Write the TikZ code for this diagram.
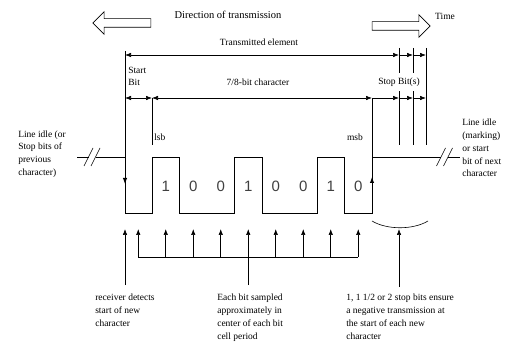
\documentclass[tikz,border=0pt]{standalone}
\usepackage{fontspec}
\setmainfont{Liberation Serif}
\setsansfont{Liberation Sans}
\usetikzlibrary{shapes.arrows, arrows.meta, positioning}
\tikzstyle{lbl} = [font=\fontsize{9.5}{12.8}\selectfont, inner sep=0pt, align=left]
\tikzstyle{bitval} = [font=\sffamily\fontsize{15}{15}\selectfont, inner sep=0pt, text=black!75]
\tikzstyle{hollow} = [single arrow, draw, line width=0.6pt, inner xsep=0pt, inner ysep=4pt, minimum width=22pt, minimum height=58pt, single arrow head extend=7pt]
\tikzstyle{arrow2} = [->, >={Latex[length=6pt,width=4.5pt]}]
\tikzstyle{dim2} = [<->, >={Latex[length=6pt,width=4.5pt]}]
\tikzstyle{wave} = [line width=0.9pt]

\begin{document}
\begin{tikzpicture}[x=1pt, y=-1pt, line width=0.6pt]
\useasboundingbox (0,0) rectangle (520,342);

            % Place nodes
            \node (dirl) [hollow, shape border rotate=180] at (124,23) {};
            \node (dirtxt) [lbl, font=\fontsize{10.5}{12.8}\selectfont] at (228,15) {Direction of transmission};
            \node (dirr) [hollow] at (399,26) {};
            \node (time) [lbl] at (445,16) {Time};
            \node (elem) [lbl] at (259,42) {Transmitted element};
            \node (startbit) [lbl, anchor=west] at (128,76.5) {Start\\Bit};
            \node (char) [lbl] at (258,82) {7/8-bit character};
            \node (lsb) [lbl, anchor=west] at (154,137) {lsb};
            \node (msb) [lbl] at (355,137) {msb};
            \node (idlel) [lbl, anchor=west] at (18,154) {Line idle (or\\Stop bits of\\previous\\character)};
            \node (idler) [lbl, anchor=west] at (462,148) {Line idle\\(marking)\\ or start\\bit of next\\character};
            \node (rxlbl) [lbl, anchor=north west] at (95,294) {receiver detects\\start of new\\character};
            \node (smplbl) [lbl, anchor=north west] at (217,294) {Each bit sampled\\approximately in\\center of each bit\\cell period};
            \node (stoplbl) [lbl, anchor=north west] at (346,294) {1, 1 1/2 or 2 stop bits ensure\\a negative transmission at\\the start of each new\\character};
            \foreach \v [count=\i] in {1,0,0,1,0,0,1,0}
                \node (bit\i) [bitval] at ({138.25+27.5*\i},186) {\v};

            % Dimension rows
            \coordinate (eS) at (125,55);
            \coordinate (eA) at (399,55);
            \coordinate (eB) at (413,55);
            \coordinate (eC) at (426,55);
            \coordinate (cS) at (125,98);
            \coordinate (cL) at (152,98);
            \coordinate (cM) at (372,98);
            \coordinate (cA) at (399,98);
            \coordinate (cB) at (413,98);
            \coordinate (cC) at (426,98);
            \draw (125,51) -- (125,157);
            \draw (cL) -- (152,145);
            \draw (cM) -- (372,157);
            \foreach \x in {399,413,426}
                \draw (\x,48) -- (\x,145);
            \draw [dim2] (eS) -- (eA);
            \draw [arrow2] (eA) -- (eB);
            \draw [arrow2] (eB) -- (eC);
            \draw [dim2] (cS) -- (cL);
            \draw [dim2] (cL) -- (cM);
            \draw [arrow2] (cM) -- (cA);
            \draw [arrow2] (cA) -- (cB);
            \draw [arrow2] (cB) -- (cC);
            \node (stopbits) [lbl, fill=white, inner xsep=1pt, inner ysep=4.5pt] at (399,82) {Stop Bit(s)};

            % Waveform
            \draw [wave] (77,157) -- (88.5,157);
            \draw (84,166) -- (93,148);
            \draw (91,166) -- (100,148);
            \draw [wave] (95.5,157) -- (125,157) -- (125,213) -- (152,213) -- (152,157)
                -- (179.5,157) -- (179.5,213) -- (234.5,213) -- (234.5,157) -- (262,157)
                -- (262,213) -- (317,213) -- (317,157) -- (344.5,157) -- (344.5,213)
                -- (372,213) -- (372,157) -- (441,157);
            \draw (436.5,166) -- (445.5,148);
            \draw (443.5,166) -- (452.5,148);
            \draw [wave] (448,157) -- (460,157);
            \draw [wave, arrow2] (125,170) -- (125,184);
            \draw [wave, arrow2] (372,195) -- (372,177);
            \draw (372,221) .. controls (387,230) and (413,230) .. (428,221);

            % Sampling arrows
            \foreach \i in {0,...,8} {
                \coordinate (smp\i) at ({138.25+27.5*\i},229);
                \coordinate (bus\i) at ({138.25+27.5*\i},257);
                \draw [arrow2] (bus\i) -- (smp\i);
            }
            \draw (bus0) -- (bus8);
            \coordinate (det) at (125,229);
            \coordinate (dettail) at (125,285);
            \coordinate (smptail) at (248.25,285);
            \coordinate (stoptip) at (399,229);
            \coordinate (stoptail) at (399,287);
            \draw [arrow2] (dettail) -- (det);
            \draw (smptail) -- (bus4);
            \draw [arrow2] (stoptail) -- (stoptip);
        \end{tikzpicture}
\end{document}
